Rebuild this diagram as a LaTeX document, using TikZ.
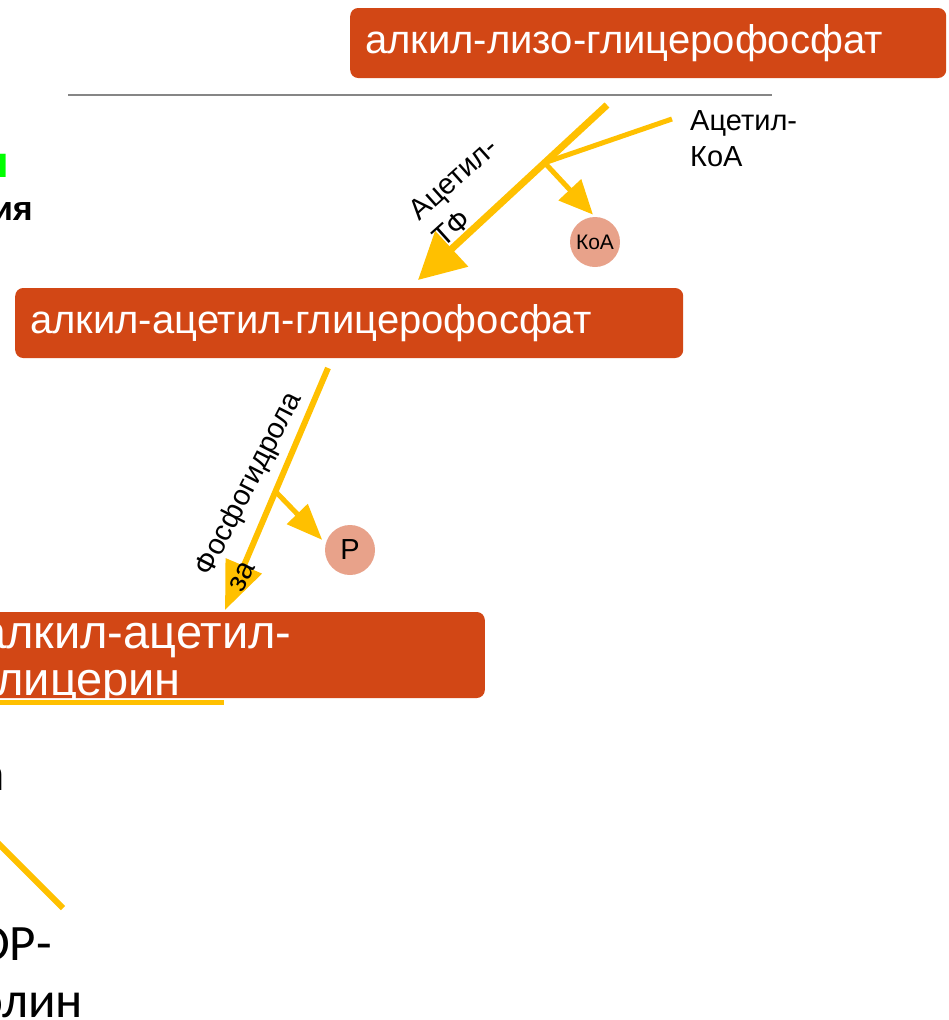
\documentclass[tikz,border=0pt]{standalone}
\usepackage{fontspec}
\setmainfont{Liberation Sans}
\newfontfamily\calibri{Carlito}
\usetikzlibrary{arrows.meta, calc}
\definecolor{rust}{RGB}{210,71,21}
\definecolor{amber}{RGB}{255,192,0}
\definecolor{salmon}{RGB}{232,162,138}
\definecolor{lime}{RGB}{0,255,0}
\tikzstyle{substrate} = [
    rectangle,
    rounded corners=8pt,
    fill=rust,
    text=white,
    inner xsep=15pt,
    align=left,
    font=\fontsize{40}{48}\selectfont
]
\tikzstyle{cofactor} = [
    circle,
    fill=salmon,
    inner sep=0pt,
    minimum size=50pt
]
\tikzstyle{reaction} = [
    draw=amber,
    line width=7pt,
    -{Triangle[length=46pt,width=47pt]}
]
\tikzstyle{release} = [
    draw=amber,
    line width=5pt,
    -{Triangle[length=34pt,width=30pt]}
]
\tikzstyle{enzyme} = [
    align=left,
    inner sep=0pt,
    font=\fontsize{29}{36}\selectfont
]
\tikzstyle{slidetext} = [
    align=left,
    inner sep=0pt,
    font=\calibri\fontsize{51}{57}\selectfont
]

\begin{document}
\begin{tikzpicture}[x=1pt, y=-1pt]
        \useasboundingbox (0,0) rectangle (948,1020);

        % title remains on the left
        \node (titleA) [anchor=base east, inner sep=0pt, text=lime, font=\bfseries\fontsize{44}{52}\selectfont] at (9,177) {я};
        \node (titleB) [anchor=base east, inner sep=0pt, font=\bfseries\fontsize{34}{40}\selectfont] at (33,220) {ия};

        \node (lyso) [substrate, anchor=west, text width=566pt, minimum height=70pt] at (350,43) {алкил-лизо-глицерофосфат};
        \draw[gray!95, line width=2pt] (68,95) -- (772,95);

        % acetylation
        \coordinate (acstart) at (607,105);
        \coordinate (actip) at (418,280);
        \coordinate (acin) at (672,119);
        \coordinate (acjoin) at ($(acstart)!0.33!(actip)$);
        \node (koa) [cofactor, font=\fontsize{21}{23}\selectfont] at (595,242) {КоА};
        \draw[reaction] (acstart) -- (actip);
        \draw[draw=amber, line width=5pt] (acin) -- (acjoin);
        \draw[release, shorten >=3pt] (acjoin) -- (koa.north);
        \node (acoa) [enzyme, anchor=north west] at (690,110) {Ацетил-\\КоА};
        \node (acetf) [enzyme, rotate=42] at (465,192) {Ацетил-\\ТФ};

        \node (aagp) [substrate, anchor=west, text width=638pt, minimum height=70pt] at (15,323) {алкил-ацетил-глицерофосфат};

        % dephosphorylation
        \coordinate (phstart) at (328,368);
        \coordinate (phtip) at (225,610);
        \coordinate (phjoin) at ($(phstart)!0.51!(phtip)$);
        \node (pi) [cofactor, font=\fontsize{29}{31}\selectfont] at (350,550) {P};
        \draw[reaction, line width=6pt, -{Triangle[length=48pt,width=38pt]}] (phstart) -- (phtip);
        \draw[release, -{Triangle[length=36pt,width=28pt]}, shorten >=5pt] (phjoin) -- (pi.165);
        \node (phos) [enzyme, rotate=63] at (263,491) {Фосфогидрола\\за};

        \node (aag) [substrate, anchor=east, minimum width=540pt, minimum height=86pt] at (485,655) {};
        \node (aagtext) [anchor=base west, inner sep=0pt, text=white, align=left, font=\fontsize{47}{47}\selectfont] at (-20,695) {алкил-ацетил-\\глицерин};
        \draw[amber, line width=5pt] (-5,702) -- (224,702);

        % next step, cut at the edge
        \coordinate (cholin) at (-5,840);
        \coordinate (cholout) at (63,908);
        \node (restA) [slidetext, anchor=base east] at (5,790) {а};
        \draw[amber, line width=6pt] (cholin) -- (cholout);
        \node (restB) [slidetext, anchor=base west] at (-24,1017) {ОР-\\олин};
    \end{tikzpicture}
\end{document}
